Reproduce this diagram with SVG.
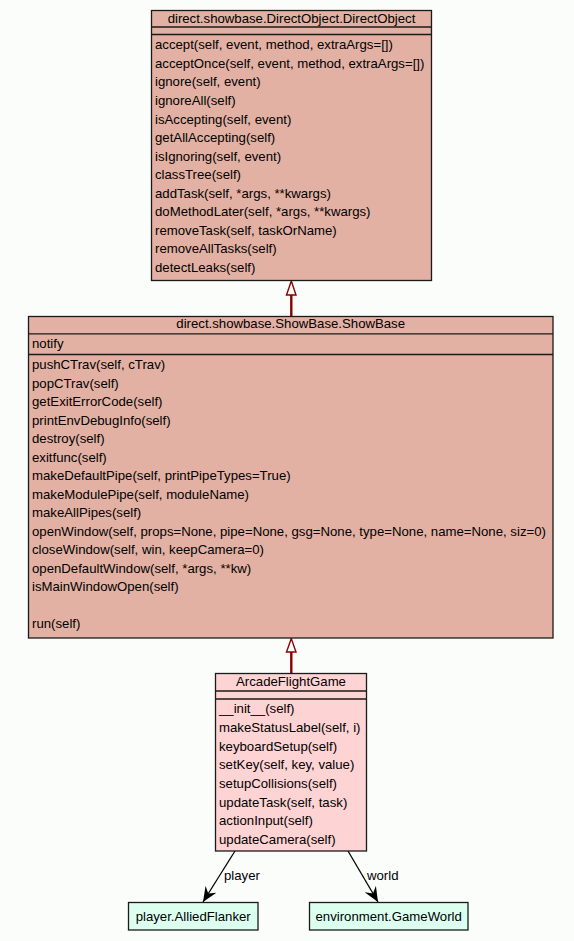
<svg xmlns="http://www.w3.org/2000/svg" width="574" height="941" viewBox="0 0 574 941">
<style>
text{font-family:"Liberation Sans",Arial,sans-serif;font-size:13.2px;fill:#000}
.t{text-anchor:middle}
.box{stroke:#1a1a1a;stroke-width:1.3}
.base{fill:#e2b1a3}
.cls{fill:#fdd3d4}
.ext{fill:#ddfff0}
.sep{stroke:#1a1a1a;stroke-width:1.3}
.inh{stroke:#8b0000;stroke-width:2.4;fill:none}
.tri{fill:#fff;stroke:#8b0000;stroke-width:1.4}
.asc{stroke:#000;stroke-width:1.3;fill:none}
</style>
<defs>
<marker id="vee" markerUnits="userSpaceOnUse" markerWidth="16" markerHeight="14" refX="15" refY="7" orient="auto" viewBox="0 0 16 14">
<path d="M0,0.6 L15,7 L0,13.4 L5,7 Z" fill="#000"/>
</marker>
</defs>
<rect x="0" y="0" width="574" height="941" fill="#fbfdfb"/>

<g id="connectors">
<line class="inh" x1="291.3" y1="295" x2="291.3" y2="316.5"/>
<polygon class="tri" points="291.3,281 286.5,295 296,295"/>
<line class="inh" x1="291.3" y1="652" x2="291.3" y2="673"/>
<polygon class="tri" points="291.3,638.5 286.5,652 296,652"/>
<line class="asc" x1="235" y1="851" x2="203" y2="902" marker-end="url(#vee)"/>
<text x="224" y="879.5">player</text>
<line class="asc" x1="348" y1="851" x2="378" y2="902" marker-end="url(#vee)"/>
<text x="367" y="879.5">world</text>
</g>

<g id="DirectObject">
<rect class="box base" x="151.5" y="10.5" width="280" height="270"/>
<line class="sep" x1="151.5" y1="27" x2="431.5" y2="27"/>
<line class="sep" x1="151.5" y1="34.5" x2="431.5" y2="34.5"/>
<text class="t" x="291.5" y="22.7">direct.showbase.DirectObject.DirectObject</text>
<text x="155" y="49.3">accept(self, event, method, extraArgs=[])</text>
<text x="155" y="67.8">acceptOnce(self, event, method, extraArgs=[])</text>
<text x="155" y="86.4">ignore(self, event)</text>
<text x="155" y="104.9">ignoreAll(self)</text>
<text x="155" y="123.5">isAccepting(self, event)</text>
<text x="155" y="142">getAllAccepting(self)</text>
<text x="155" y="160.6">isIgnoring(self, event)</text>
<text x="155" y="179.1">classTree(self)</text>
<text x="155" y="197.7">addTask(self, *args, **kwargs)</text>
<text x="155" y="216.2">doMethodLater(self, *args, **kwargs)</text>
<text x="155" y="234.8">removeTask(self, taskOrName)</text>
<text x="155" y="253.3">removeAllTasks(self)</text>
<text x="155" y="271.9">detectLeaks(self)</text>
</g>

<g id="ShowBase">
<rect class="box base" x="28.5" y="316.5" width="524.5" height="321.5"/>
<line class="sep" x1="28.5" y1="333.8" x2="553" y2="333.8"/>
<line class="sep" x1="28.5" y1="354.5" x2="553" y2="354.5"/>
<text class="t" x="290.7" y="327.5">direct.showbase.ShowBase.ShowBase</text>
<text x="32" y="347.5">notify</text>
<text x="32" y="369.3">pushCTrav(self, cTrav)</text>
<text x="32" y="387.8">popCTrav(self)</text>
<text x="32" y="406.3">getExitErrorCode(self)</text>
<text x="32" y="424.8">printEnvDebugInfo(self)</text>
<text x="32" y="443.3">destroy(self)</text>
<text x="32" y="461.8">exitfunc(self)</text>
<text x="32" y="480.3">makeDefaultPipe(self, printPipeTypes=True)</text>
<text x="32" y="498.8">makeModulePipe(self, moduleName)</text>
<text x="32" y="517.3">makeAllPipes(self)</text>
<text x="32" y="535.8">openWindow(self, props=None, pipe=None, gsg=None, type=None, name=None, siz=0)</text>
<text x="32" y="554.3">closeWindow(self, win, keepCamera=0)</text>
<text x="32" y="572.8">openDefaultWindow(self, *args, **kw)</text>
<text x="32" y="591.3">isMainWindowOpen(self)</text>
<text x="32" y="628.3">run(self)</text>
</g>

<g id="ArcadeFlightGame">
<rect class="box cls" x="215.5" y="673.5" width="151" height="177.5"/>
<line class="sep" x1="215.5" y1="691" x2="366.5" y2="691"/>
<line class="sep" x1="215.5" y1="699" x2="366.5" y2="699"/>
<text class="t" x="291" y="685.5">ArcadeFlightGame</text>
<text x="219" y="713.3">__init__(self)</text>
<text x="219" y="732">makeStatusLabel(self, i)</text>
<text x="219" y="750.6">keyboardSetup(self)</text>
<text x="219" y="769.3">setKey(self, key, value)</text>
<text x="219" y="788">setupCollisions(self)</text>
<text x="219" y="806.6">updateTask(self, task)</text>
<text x="219" y="825.3">actionInput(self)</text>
<text x="219" y="844">updateCamera(self)</text>
</g>

<g id="AlliedFlanker">
<rect class="box ext" x="128.5" y="902.5" width="129.5" height="27.5"/>
<text class="t" x="193.2" y="920.5">player.AlliedFlanker</text>
</g>

<g id="GameWorld">
<rect class="box ext" x="309.5" y="902.5" width="158.5" height="27.5"/>
<text class="t" x="388.7" y="920.5">environment.GameWorld</text>
</g>
</svg>
